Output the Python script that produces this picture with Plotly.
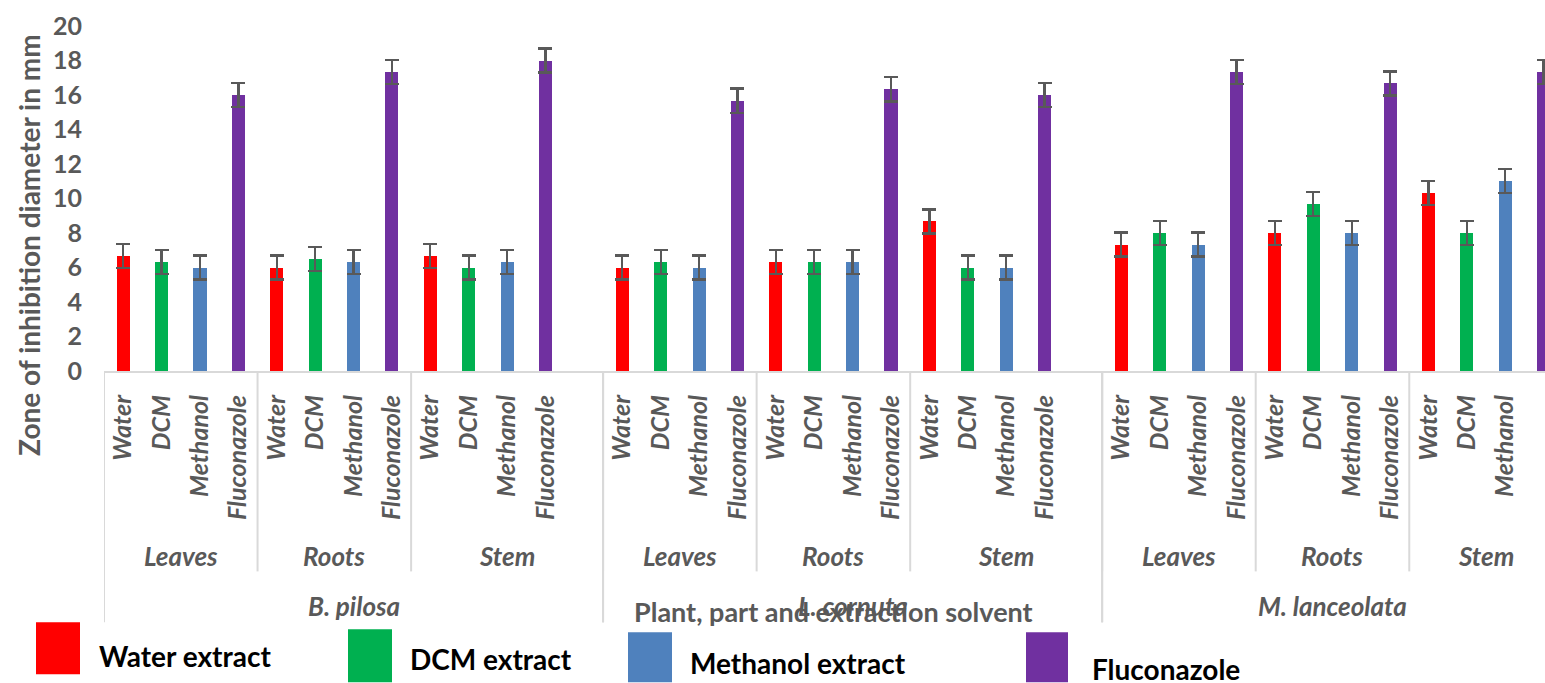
import plotly.graph_objects as go

# ---- data -------------------------------------------------------------
plants = ["B. pilosa", "L. cornuta", "M. lanceolata"]
parts = ["Leaves", "Roots", "Stem"]
solvents = ["Water", "DCM", "Methanol", "Fluconazole"]
legend_labels = ["Water extract", "DCM extract", "Methanol extract", "Fluconazole"]
colors = ["#FF0000", "#00B050", "#4F81BD", "#7030A0"]

# mean zone of inhibition (mm), ordered plant -> part (Leaves, Roots, Stem)
water = [6.67, 6.0, 6.67, 6.0, 6.33, 8.67, 7.33, 8.0, 10.33]
dcm = [6.33, 6.5, 6.0, 6.33, 6.33, 6.0, 8.0, 9.67, 8.0]
methanol = [6.0, 6.33, 6.33, 6.0, 6.33, 6.0, 7.33, 8.0, 11.0]
fluconazole = [16.0, 17.33, 18.0, 15.67, 16.33, 16.0, 17.33, 16.67, 17.33]

# error bar half-lengths (mm)
water_err = [0.7, 0.7, 0.7, 0.7, 0.7, 0.7, 0.7, 0.7, 0.7]
dcm_err = [0.7, 0.7, 0.7, 0.7, 0.7, 0.7, 0.7, 0.7, 0.7]
methanol_err = [0.7, 0.7, 0.7, 0.7, 0.7, 0.7, 0.7, 0.7, 0.7]
fluconazole_err = [0.7, 0.7, 0.7, 0.7, 0.7, 0.7, 0.7, 0.7, 0.7]

y_ticks = [0, 2, 4, 6, 8, 10, 12, 14, 16, 18, 20]

series = [water, dcm, methanol, fluconazole]
series_err = [water_err, dcm_err, methanol_err, fluconazole_err]

# ---- category slots: 4 solvents per part, one blank slot between plants --
slot = 0
group_slots = []          # (plant index, part index, [slots])
plant_bounds = []
part_bounds = []
for i, plant in enumerate(plants):
    p_start = slot - 0.5
    for j, part in enumerate(parts):
        s = [slot + k for k in range(len(solvents))]
        group_slots.append((i, j, s))
        part_bounds.append([slot - 0.5, None])
        slot += len(solvents)
    if i < len(plants) - 1:
        slot += 1
    plant_bounds.append([p_start, slot - 0.5])
    part_bounds[-1][1] = slot - 0.5
for k in range(len(part_bounds) - 1):
    if part_bounds[k][1] is None:
        part_bounds[k][1] = part_bounds[k + 1][0]
n_slots = slot

# ---- geometry ---------------------------------------------------------
W, H = 1545, 683
L_PX = 104
T_PX, B_PX = 25.8, 371.3
SLOT_PX = 38.39
plot_w = W - L_PX
plot_h = B_PX - T_PX
x_end = -0.5 + plot_w / SLOT_PX


def py(pix):
    """pixel row -> paper y"""
    return (B_PX - pix) / plot_h


def px(pix):
    """pixel column -> paper x"""
    return (pix - L_PX) / plot_w


GRAY = "#595959"
FONT = "Lato"

fig = go.Figure()

for s_idx, (name, vals, errs, col) in enumerate(zip(solvents, series, series_err, colors)):
    xs = [g[2][s_idx] for g in group_slots]
    fig.add_trace(go.Bar(
        x=xs, y=vals, name=legend_labels[s_idx],
        marker=dict(color=col, line=dict(width=0)),
        width=0.34,
        error_y=dict(type="data", array=errs, visible=True,
                     color=GRAY, thickness=2.3, width=7),
        showlegend=False,
    ))

tickvals, ticktext = [], []
for i, j, s in group_slots:
    tickvals += s
    ticktext += solvents

fig.update_xaxes(
    range=[-0.5, x_end], showgrid=False, zeroline=False,
    showline=True, linecolor="#D9D9D9", linewidth=2,
    tickmode="array", tickvals=tickvals, ticktext=ticktext,
    tickangle=-90, ticks="", ticklabelstandoff=12,
    tickfont=dict(family=FONT, size=25, color=GRAY, weight="bold", style="italic"),
)
fig.update_yaxes(
    range=[0, 20], tickvals=y_ticks, showgrid=False, zeroline=False,
    showline=False, ticks="", ticklabelstandoff=21,
    tickfont=dict(family=FONT, size=25, color=GRAY, weight="bold"),
)

shapes = []
annotations = []

# category separators below the axis
for a, b in part_bounds:
    shapes.append(dict(type="line", xref="x", yref="paper", x0=a, x1=a,
                       y0=0, y1=py(572), line=dict(color="#D9D9D9", width=2)))
for a, b in plant_bounds:
    for xv in (a, b):
        shapes.append(dict(type="line", xref="x", yref="paper", x0=xv, x1=xv,
                           y0=0, y1=py(623), line=dict(color="#D9D9D9", width=2)))

# part labels
for (a, b), (i, j, s) in zip(part_bounds, group_slots):
    annotations.append(dict(x=(a + b) / 2, y=py(557), xref="x", yref="paper",
                            xanchor="center", yanchor="middle",
                            text=parts[j], showarrow=False,
                            font=dict(family=FONT, size=26, color=GRAY,
                                      weight="bold", style="italic")))
# plant labels
for (a, b), plant in zip(plant_bounds, plants):
    annotations.append(dict(x=(a + b) / 2, y=py(607), xref="x", yref="paper",
                            xanchor="center", yanchor="middle",
                            text=plant, showarrow=False,
                            font=dict(family=FONT, size=26, color=GRAY,
                                      weight="bold", style="italic")))

# axis titles
annotations.append(dict(x=(plant_bounds[0][0] + plant_bounds[-1][1]) / 2, y=py(612),
                        xref="x", yref="paper", xanchor="center", yanchor="middle",
                        text="Plant, part and extraction solvent",
                        showarrow=False,
                        font=dict(family=FONT, size=27, color=GRAY, weight="bold")))
annotations.append(dict(x=px(29), y=py(245), xref="paper", yref="paper",
                        xanchor="center", yanchor="middle",
                        text="Zone of inhibition diameter in mm", textangle=-90,
                        showarrow=False,
                        font=dict(family=FONT, size=28, color=GRAY, weight="bold")))

# legend swatches and labels
legend_rects = [(36, 623, 80, 675), (348, 630, 392, 683), (628, 633, 672, 683), (1026, 633, 1068, 683)]
legend_text = [(97, 657), (408, 660), (688, 664), (1090, 670)]
for (x0, y0, x1, y1), (tx, ty), col, lab in zip(legend_rects, legend_text, colors, legend_labels):
    shapes.append(dict(type="rect", xref="paper", yref="paper",
                       x0=px(x0), x1=px(x1), y0=py(y1), y1=py(y0),
                       fillcolor=col, line=dict(width=0)))
    annotations.append(dict(x=px(tx), y=py(ty), xref="paper", yref="paper",
                            xanchor="left", yanchor="middle", text=lab, showarrow=False,
                            font=dict(family=FONT, size=28, color="#000000", weight="bold")))

fig.update_layout(
    width=W, height=H,
    margin=dict(l=L_PX, r=0, t=T_PX, b=H - B_PX, pad=0),
    paper_bgcolor="white", plot_bgcolor="white",
    bargap=0, barmode="overlay",
    shapes=shapes, annotations=annotations,
)

fig.write_html("out.html")
